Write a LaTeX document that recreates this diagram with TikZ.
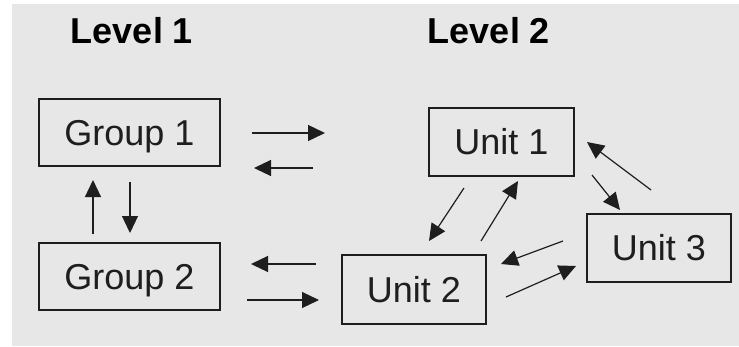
\documentclass[tikz,border=0pt]{standalone}
\usepackage{fontspec}
\setmainfont{Liberation Sans}
\usetikzlibrary{arrows.meta}
\definecolor{panel}{HTML}{E7E7E7}
\definecolor{ink}{HTML}{1E1E1E}
\tikzset{
  box/.style={draw=ink, line width=1.1pt, inner sep=0pt, font=\fontsize{36}{40}\selectfont,
    text height=25.8pt, text depth=0pt, text=ink},
  heading/.style={font=\fontsize{36}{40}\selectfont\bfseries, anchor=base, text=black, inner sep=0pt},
  arr/.style={draw=ink, line width=1.2pt, -{Triangle[length=17pt,width=16pt]}}
}
\begin{document}
\begin{tikzpicture}[x=1pt, y=-1pt]
  % page and grey panel
  \fill[white] (0,0) rectangle (739,346);
  \fill[panel] (12,4) rectangle (739,346);
  \useasboundingbox (0,0) rectangle (739,346);

  % headings
  \node[heading] (lev1) at (132,43) {Level 1};
  \node[heading] (lev2) at (489,43) {Level 2};

  % boxes
  \node[box, minimum width=181pt, minimum height=67pt] (g1) at (129.5,132.5) {Group 1};
  \node[box, minimum width=181pt, minimum height=67pt] (g2) at (129.5,276.5) {Group 2};
  \node[box, minimum width=145pt, minimum height=68pt] (u1) at (501.5,142) {Unit 1};
  \node[box, minimum width=144pt, minimum height=69pt] (u2) at (414,289.5) {Unit 2};
  \node[box, minimum width=144pt, minimum height=68pt] (u3) at (659,248) {Unit 3};

  % arrow end points
  \coordinate (g1u1a) at (252,133);  \coordinate (g1u1b) at (325,133);
  \coordinate (u1g1a) at (313,168);  \coordinate (u1g1b) at (254,168);
  \coordinate (g2g1a) at (93,234);   \coordinate (g2g1b) at (93,180);
  \coordinate (g1g2a) at (130,182);  \coordinate (g1g2b) at (130,233);
  \coordinate (u2g2a) at (316,264);  \coordinate (u2g2b) at (251,264);
  \coordinate (g2u2a) at (247,300);  \coordinate (g2u2b) at (319,300);
  \coordinate (u1u2a) at (464,188);  \coordinate (u1u2b) at (429,241);
  \coordinate (u2u1a) at (481,241);  \coordinate (u2u1b) at (518,181);
  \coordinate (u1u3a) at (592,175);  \coordinate (u1u3b) at (620,210);
  \coordinate (u3u1a) at (651,190);  \coordinate (u3u1b) at (587,142);
  \coordinate (u3u2a) at (563,241);  \coordinate (u3u2b) at (501,264);
  \coordinate (u2u3a) at (506,297);  \coordinate (u2u3b) at (576,266);

  % connectors
  \draw[arr] (g1u1a) -- (g1u1b);
  \draw[arr] (u1g1a) -- (u1g1b);
  \draw[arr] (g2g1a) -- (g2g1b);
  \draw[arr] (g1g2a) -- (g1g2b);
  \draw[arr] (u2g2a) -- (u2g2b);
  \draw[arr] (g2u2a) -- (g2u2b);
  \draw[arr] (u1u2a) -- (u1u2b);
  \draw[arr] (u2u1a) -- (u2u1b);
  \draw[arr] (u1u3a) -- (u1u3b);
  \draw[arr] (u3u1a) -- (u3u1b);
  \draw[arr] (u3u2a) -- (u3u2b);
  \draw[arr] (u2u3a) -- (u2u3b);
\end{tikzpicture}
\end{document}
